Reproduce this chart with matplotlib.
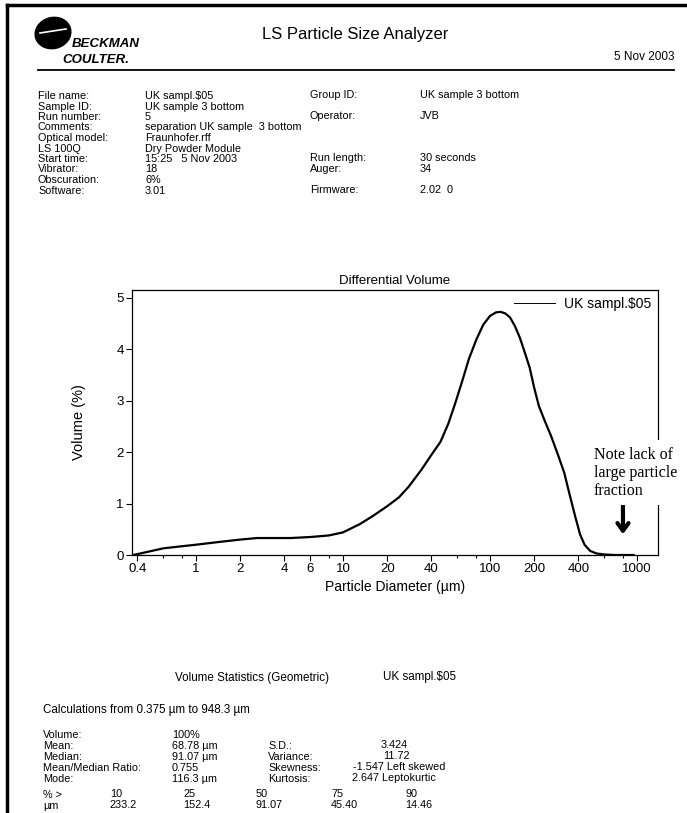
import matplotlib.pyplot as plt
from matplotlib.patches import Ellipse
from matplotlib.lines import Line2D

plt.rcParams['font.family'] = ['Liberation Sans', 'DejaVu Sans']

# differential volume curve
diameter = [0.375, 0.45, 0.6, 0.8, 1.0, 1.4, 2.0, 2.6, 3.4, 4.4, 6.0, 8.0, 10, 13, 16, 20,
            24, 28, 34, 40, 46, 52, 58, 65, 72, 81, 90, 100, 110, 118, 127, 137, 148, 160,
            172, 186, 200, 215, 235, 260, 290, 320, 350, 380, 410, 440, 480, 530, 600, 700,
            850, 948]
volume = [0.0, 0.05, 0.13, 0.17, 0.20, 0.25, 0.30, 0.33, 0.33, 0.33, 0.35, 0.38, 0.44, 0.60,
          0.76, 0.95, 1.12, 1.33, 1.65, 1.95, 2.20, 2.55, 2.95, 3.40, 3.82, 4.20, 4.48, 4.65,
          4.72, 4.73, 4.70, 4.62, 4.45, 4.22, 3.95, 3.65, 3.25, 2.90, 2.62, 2.32, 1.95, 1.60,
          1.15, 0.75, 0.40, 0.20, 0.08, 0.03, 0.01, 0.0, 0.0, 0.0]
xticks = [0.4, 1, 2, 4, 6, 10, 20, 40, 100, 200, 400, 1000]
xticklabels = ['0.4', '1', '2', '4', '6', '10', '20', '40', '100', '200', '400', '1000']
xminor = [0.6, 0.8, 8, 60, 80, 600, 800]

info_left = [("File name:", "UK sampl.$05"), ("Sample ID:", "UK sample 3 bottom"),
             ("Run number:", "5"), ("Comments:", "separation UK sample  3 bottom"),
             ("Optical model:", "Fraunhofer.rff"), ("LS 100Q", "Dry Powder Module"),
             ("Start time:", "15:25   5 Nov 2003"), ("Vibrator:", "18"),
             ("Obscuration:", "6%"), ("Software:", "3.01")]
info_right = {0: ("Group ID:", "UK sample 3 bottom"), 2: ("Operator:", "JVB"),
              6: ("Run length:", "30 seconds"), 7: ("Auger:", "34"),
              9: ("Firmware:", "2.02  0")}

stats_left = [("Volume:", "100%"), ("Mean:", "68.78 µm"), ("Median:", "91.07 µm"),
              ("Mean/Median Ratio:", "0.755"), ("Mode:", "116.3 µm")]
stats_right = [None, ("S.D.:", "3.424"), ("Variance:", "11.72"),
               ("Skewness:", "-1.547 Left skewed"), ("Kurtosis:", "2.647 Leptokurtic")]
pct_gt = ['10', '25', '50', '75', '90']
pct_um = ['233.2', '152.4', '91.07', '45.40', '14.46']

W, H = 687, 813
fig = plt.figure(figsize=(W / 100, H / 100), dpi=100)


def txt(x, y, s, **kw):
    kw.setdefault('fontsize', 7.8)
    kw.setdefault('va', 'center')
    return fig.text(x / W, 1 - y / H, s, **kw)


# page frame and header rule
fig.add_artist(Line2D([7 / W, 7 / W], [0, 1 - 5 / H], color='black', lw=2.5))
fig.add_artist(Line2D([7 / W, 1], [1 - 5 / H, 1 - 5 / H], color='black', lw=2.5))
fig.add_artist(Line2D([38 / W, 674 / W], [1 - 70 / H, 1 - 70 / H], color='black', lw=1.3))

# logo
fig.add_artist(Ellipse((53 / 100, (H - 33) / 100), 0.36, 0.31, angle=15,
                       transform=fig.dpi_scale_trans, color='black'))
fig.add_artist(Line2D([40 / W, 66 / W], [1 - 33 / H, 1 - 29 / H], color='white', lw=1.2))
txt(72, 44, "BECKMAN", fontsize=9.5, weight='bold', style='italic')
txt(62, 60, "COULTER.", fontsize=9.5, weight='bold', style='italic')

txt(355, 35, "LS Particle Size Analyzer", fontsize=12, ha='center')
txt(675, 57, "5 Nov 2003", fontsize=8.5, ha='right')

line_y = [96, 106.5, 117, 127.5, 138, 148.5, 159, 169.5, 180, 190.5]
for i, (lab, val) in enumerate(info_left):
    txt(38, line_y[i], lab)
    txt(145, line_y[i], val)
for i, (lab, val) in info_right.items():
    txt(310, line_y[i] - 1, lab)
    txt(420, line_y[i] - 1, val)

# chart
ax = fig.add_axes([132 / W, 1 - 555 / H, (658 - 132) / W, (555 - 290) / H])
ax.plot(diameter, volume, color='black', lw=1.6, label='UK sampl.$05')
ax.set_xscale('log')
ax.set_xlim(0.367, 1390)
ax.set_ylim(0, 5.155)
ax.set_xticks(xticks, labels=xticklabels)
ax.set_xticks(xminor, minor=True)
ax.set_yticks([0, 1, 2, 3, 4, 5])
ax.tick_params(axis='both', which='major', labelsize=9.5, length=4, width=0.8, pad=2)
ax.tick_params(axis='x', which='minor', length=2.5, width=0.8)
for sp in ax.spines.values():
    sp.set_linewidth(0.9)
ax.set_title("Differential Volume", fontsize=9.5, pad=4)
ax.set_xlabel("Particle Diameter (µm)", fontsize=10, labelpad=3)
ax.set_ylabel("Volume (%)", fontsize=10.5, labelpad=22)
leg = ax.legend(loc='upper right', frameon=False, fontsize=10, handlelength=3.0,
                borderaxespad=0.1, handletextpad=0.6)
leg.get_lines()[0].set_linewidth(0.7)

fig.text(594 / W, 1 - 447 / H, "Note lack of\nlarge particle\nfraction", va='top', ha='left',
         family=['Liberation Serif', 'DejaVu Serif'], fontsize=11.5, linespacing=1.15,
         bbox=dict(facecolor='white', edgecolor='none', pad=5))
ax.annotate('', xy=(803, 0.35), xytext=(803, 1.02),
            arrowprops=dict(arrowstyle='->,head_length=0.55,head_width=0.4', lw=3,
                            color='black'))

# statistics
txt(175, 678, "Volume Statistics (Geometric)", fontsize=8.4)
txt(383, 677, "UK sampl.$05", fontsize=8.4)
txt(43, 710, "Calculations from 0.375 µm to 948.3 µm", fontsize=8.4)
rows_y = [735, 746, 757, 768, 779]
for i, (lab, val) in enumerate(stats_left):
    txt(43, rows_y[i], lab)
    txt(172, rows_y[i], val)
val2_x = [0, 381, 383, 353, 352]
for i, item in enumerate(stats_right):
    if item:
        txt(268, rows_y[i], item[0])
        txt(val2_x[i], rows_y[i] - 1, item[1])
col_x = [110, 183, 256, 331, 405]
txt(43, 795, "% >")
txt(43, 806, "µm")
for x, a, b in zip(col_x, pct_gt, pct_um):
    txt(x, 794, a)
    txt(x, 805, b)

fig.savefig('out.png', dpi=100, facecolor='white')
